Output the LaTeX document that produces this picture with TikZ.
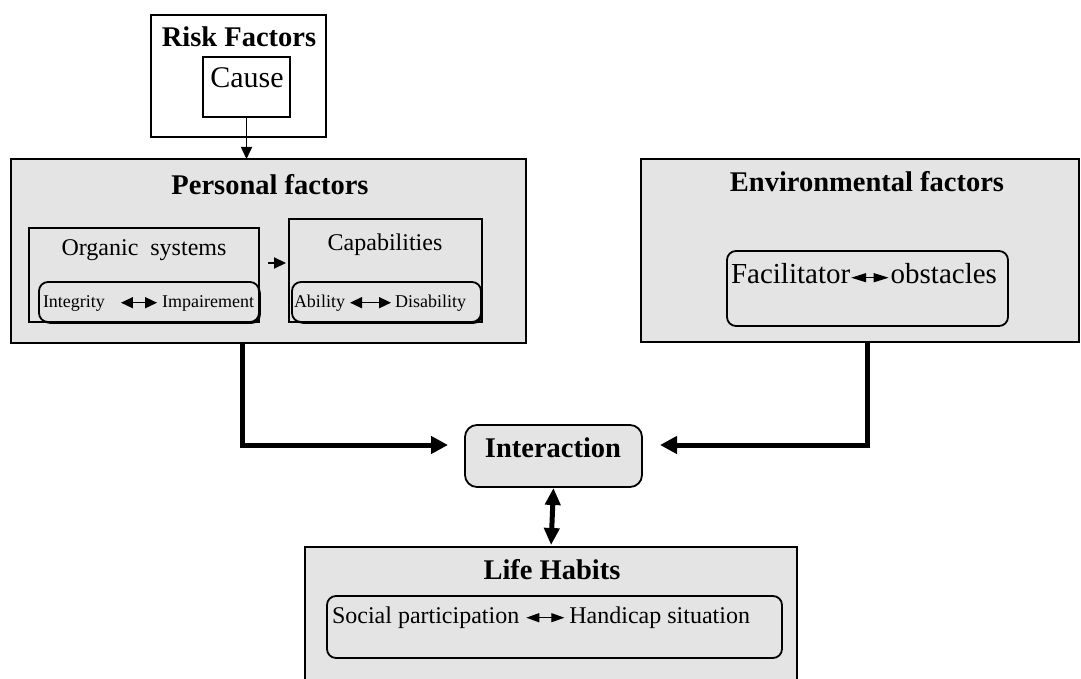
\documentclass[tikz,border=0pt]{standalone}
\usepackage{fontspec}
\setmainfont{Liberation Serif}
\usetikzlibrary{arrows.meta,positioning,fit,shadows}
\definecolor{boxgray}{RGB}{228,228,228}

\begin{document}
\begin{tikzpicture}[
  x=1pt, y=-1pt,
  every node/.style={inner sep=0pt, outer sep=0pt},
  frame/.style={draw, line width=1.8pt, fit={#1}},
  panel/.style={frame={#1}, fill=boxgray},
  pill/.style={draw, line width=1.8pt, rounded corners=9pt, fill=boxgray, fit={#1}},
  shadowpill/.style={pill={#1}, drop shadow={shadow xshift=1.8pt, shadow yshift=-1.8pt, fill=black, opacity=1}},
  heading/.style={anchor=base, font=\fontsize{28.5}{30}\selectfont\bfseries},
  txt/.style={anchor=base, font=\fontsize{#1}{#1}\selectfont},
  slimarrow/.style={line width=1.6pt, -{Triangle[length=12pt, width=11pt]}},
  heavyarrow/.style={line width=5pt, -{Triangle[length=17pt, width=17pt]}},
  heavytwoway/.style={line width=5pt, {Triangle[length=17pt, width=15pt]}-{Triangle[length=17pt, width=15pt]}},
  twoway/.style={line width=1.5pt, {Triangle[length=12pt, width=11pt]}-{Triangle[length=12pt, width=11pt]}}
]
\clip (0,0) rectangle (1081,679);
\useasboundingbox (0,0) rectangle (1081,679);

% risk factors
\node[frame={(151,15) (326,137)}, fill=white] (risk) {};
\node[heading] (riskTitle) at (239,47) {Risk Factors};
\node[frame={(203,57) (290,117)}, fill=white] (cause) {};
\node[txt=30] (causeText) at (247,88) {Cause};

% personal factors
\node[panel={(11,159) (526,343)}] (personal) {};
\node[heading] (personalTitle) at (270,194) {Personal factors};
\node[panel={(29,228) (259,322)}] (organic) {};
\node[txt=24] (organicText) at (144,255) {Organic\ \ systems};
\node[shadowpill={(39,282) (259,322)}] (integrity) {};
\node[txt=18, anchor=base west] (integ) at (43,307) {Integrity};
\node[txt=18, anchor=base east] (impair) at (254,307) {Impairement};
\node[panel={(289,219) (482,322)}] (capab) {};
\node[txt=24] (capabText) at (385,250) {Capabilities};
\node[shadowpill={(292,282) (481,322)}] (ability) {};
\node[txt=18, anchor=base west] (abil) at (294,307) {Ability};
\node[txt=18, anchor=base east] (disab) at (466,307) {Disability};

% environmental factors
\node[panel={(641,159) (1079,342)}] (env) {};
\node[heading] (envTitle) at (867,192) {Environmental factors};
\node[pill={(727,251) (1008,326)}] (facil) {};
\node[txt=29, anchor=base west] (facilText) at (731,283) {Facilitator};
\node[txt=29, anchor=base east] (obstText) at (997,283) {obstacles};

% interaction
\node[draw, fill=boxgray, rounded corners=12pt, line width=1.8pt, fit={(465,425) (642,487)}] (inter) {};
\node[heading] (interTitle) at (553,457) {Interaction};

% life habits
\node[panel={(305,547) (797,700)}] (life) {};
\node[heading] (lifeTitle) at (552,579) {Life Habits};
\node[pill={(327,596) (782,658)}] (social) {};
\node[txt=24, anchor=base west] (socialText) at (332,623) {Social participation};
\node[txt=24, anchor=base east] (handiText) at (750,623) {Handicap situation};

% connectors
\draw[slimarrow] (cause.south) -- (cause.south |- personal.north);
\draw[slimarrow, line width=2pt, shorten <=9pt, shorten >=3pt] ([yshift=12pt]organic.east) -- ([yshift=12pt]organic.east -| capab.west);
\draw[twoway, shorten <=16pt, shorten >=5pt] ([yshift=2pt]integ.mid east) -- ([yshift=2pt]impair.mid west);
\draw[twoway, shorten <=5pt, shorten >=4pt] ([yshift=2pt]abil.mid east) -- ([yshift=2pt]disab.mid west);
\draw[twoway, line width=1.2pt, {Triangle[length=15pt, width=9pt]}-{Triangle[length=15pt, width=9pt]}, shorten <=1pt, shorten >=2pt] ([yshift=3pt]facilText.mid east) -- ([yshift=3pt]obstText.mid west);
\draw[twoway, line width=1.2pt, {Triangle[length=13pt, width=9pt]}-{Triangle[length=13pt, width=9pt]}, shorten <=7pt, shorten >=5pt] ([yshift=3pt]socialText.mid east) -- ([yshift=3pt]handiText.mid west);
\draw[heavyarrow, shorten >=17pt] ([xshift=-26.5pt]personal.south) |- ([yshift=11pt]inter.west);
\draw[heavyarrow, shorten >=18pt] ([xshift=7pt]env.south) |- ([yshift=11pt]inter.east);
\draw[heavytwoway, shorten <=1pt, shorten >=2pt] (inter.south) -- (life.north);
\end{tikzpicture}
\end{document}
